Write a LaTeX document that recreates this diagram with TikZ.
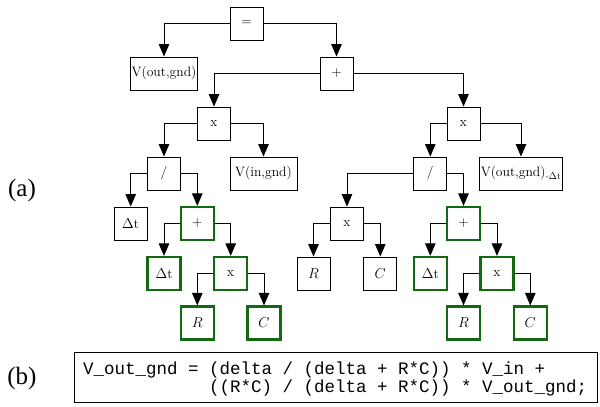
\documentclass[tikz,border=0pt]{standalone}
\usepackage{fontspec}
\newfontfamily\codefont{Liberation Mono}
\newfontfamily\labfont{Liberation Serif}
\usetikzlibrary{arrows.meta}
\definecolor{dkgreen}{RGB}{18,105,18}
\begin{document}
\begin{tikzpicture}[x=1pt,y=-1pt,
  box/.style={draw, line width=0.9pt, minimum width=33pt, minimum height=33pt, inner sep=0pt, font=\fontsize{13.6}{15}\selectfont},
  gbox/.style={box, draw=dkgreen, line width=2.2pt},
  arr/.style={line width=1pt, -{Triangle[width=10.5pt,length=12.5pt]}},
  lab/.style={font=\labfont\fontsize{25}{27}\selectfont, inner sep=0pt}]
\useasboundingbox (0,0) rectangle (600,407);
% level 0
\node[box] (eq) at (246.5,23.5) {=};
% level 1
\node[box, minimum width=67pt] (vout) at (164,73.5) {V(out,gnd)};
\node[box] (plus) at (336.5,73.5) {+};
% level 2
\node[box] (xL) at (214,123.5) {x};
\node[box] (xR) at (463.5,123.5) {x};
% level 3
\node[box] (divL) at (164,173.5) {/};
\node[box, minimum width=67pt] (vin) at (263.5,173.5) {V(in,gnd)};
\node[box] (divR) at (430.3,173.5) {/};
\node[box, minimum width=83pt] (voutd) at (521,173.5) {V(out,gnd)\textsubscript{-$\Delta$t}};
% level 4
\node[box] (dtL) at (130.7,223.5) {$\Delta$t};
\node[gbox] (plusL) at (197.3,223.5) {+};
\node[box] (xM) at (347,223.5) {x};
\node[gbox] (plusR) at (463.5,223.5) {+};
% level 5
\node[gbox] (dtL2) at (164,273.5) {$\Delta$t};
\node[gbox] (xL2) at (230.7,273.5) {x};
\node[box] (R1) at (313.5,273.5) {$R$};
\node[box] (C1) at (380.3,273.5) {$C$};
\node[gbox] (dtR2) at (430.3,273.5) {$\Delta$t};
\node[gbox] (xR2) at (497,273.5) {x};
% level 6
\node[gbox] (RL) at (197.3,323) {$R$};
\node[gbox] (CL) at (264,323) {$C$};
\node[gbox] (RR) at (463.5,323) {$R$};
\node[gbox] (CR) at (530.3,323) {$C$};
% connectors
\draw[arr] (eq.west) -| (vout.north);
\draw[arr] (eq.east) -| (plus.north);
\draw[arr] (plus.west) -| (xL.north);
\draw[arr] (plus.east) -| (xR.north);
\draw[arr] (xL.west) -| (divL.north);
\draw[arr] (xL.east) -| (vin.north);
\draw[arr] (divL.west) -| (dtL.north);
\draw[arr] (divL.east) -| (plusL.north);
\draw[arr] (plusL.west) -| (dtL2.north);
\draw[arr] (plusL.east) -| (xL2.north);
\draw[arr] (xL2.west) -| (RL.north);
\draw[arr] (xL2.east) -| (CL.north);
\draw[arr] (xR.west) -| (divR.north);
\draw[arr] (xR.east) -| (voutd.north);
\draw[arr] (divR.west) -| (xM.north);
\draw[arr] (divR.east) -| (plusR.north);
\draw[arr] (xM.west) -| (R1.north);
\draw[arr] (xM.east) -| (C1.north);
\draw[arr] (plusR.west) -| (dtR2.north);
\draw[arr] (plusR.east) -| (xR2.north);
\draw[arr] (xR2.west) -| (RR.north);
\draw[arr] (xR2.east) -| (CR.north);
% labels
\node[lab] (la) at (22,190) {(a)};
\node[lab] (lb) at (22,378) {(b)};
% code
\node[draw, line width=0.9pt, minimum width=523pt, minimum height=50pt, inner sep=0pt, anchor=north west] (codebox) at (74,352) {};
\node[anchor=base west, inner sep=0pt, align=left, font=\codefont\fontsize{17.5}{18}\selectfont] (code) at (83,392)
  {V\_out\_gnd = (delta / (delta + R*C)) * V\_in +\\
   \hspace*{7.2em}((R*C) / (delta + R*C)) * V\_out\_gnd;};
\end{tikzpicture}
\end{document}
